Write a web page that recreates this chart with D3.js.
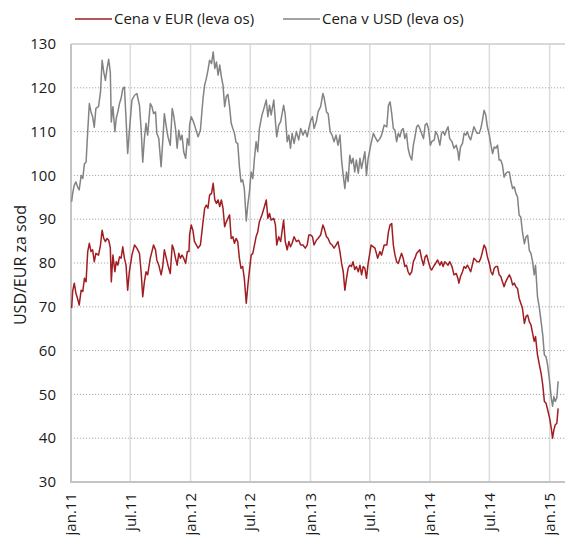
<!DOCTYPE html>
<html>
<head>
<meta charset="utf-8">
<script src="https://cdn.jsdelivr.net/npm/d3@7"></script>
<style>
  body { margin: 0; background: #fff; }
  svg { display: block; font-family: "Open Sans", sans-serif; }
</style>
</head>
<body>
<div id="chart"></div>
<script>
// Cena nafte Brent, USD in EUR za sod (odčitano s slike)
const dates2011 = [
  "2011-01-03","2011-01-06","2011-01-11","2011-01-16","2011-01-21","2011-01-26",
  "2011-02-01","2011-02-06","2011-02-11","2011-02-16","2011-02-21","2011-02-26",
  "2011-03-03","2011-03-08","2011-03-13","2011-03-18","2011-03-26",
  "2011-04-01","2011-04-06","2011-04-11","2011-04-16","2011-04-21","2011-04-26",
  "2011-05-01","2011-05-04","2011-05-09","2011-05-15","2011-05-19","2011-05-24","2011-05-29",
  "2011-06-03","2011-06-08","2011-06-13","2011-06-18","2011-06-23","2011-06-28",
  "2011-07-06","2011-07-14","2011-07-21","2011-07-29",
  "2011-08-03","2011-08-08","2011-08-13","2011-08-18","2011-08-23","2011-08-31",
  "2011-09-05","2011-09-10","2011-09-16","2011-09-20","2011-09-26",
  "2011-10-03","2011-10-08","2011-10-13","2011-10-18","2011-10-24","2011-10-31",
  "2011-11-06","2011-11-11","2011-11-16","2011-11-21","2011-11-26",
  "2011-12-01","2011-12-06","2011-12-11","2011-12-17","2011-12-22","2011-12-27","2011-12-29"
];
const usd2011 = [
  94.0, 95.9, 97.8, 98.5, 97.4, 96.7,
  100.0, 99.3, 102.7, 103.0, 110.0, 116.4,
  114.5, 113.4, 111.0, 115.3, 115.7,
  119.0, 126.3, 123.6, 121.7, 124.4, 126.5,
  123.6, 112.2, 115.7, 110.0, 113.0, 114.5, 116.4,
  117.6, 119.8, 120.2, 113.0, 105.0, 110.0,
  117.2, 118.3, 118.7, 116.0,
  110.7, 103.0, 108.4, 111.9, 109.2, 116.4,
  115.7, 114.1, 114.5, 109.6, 108.4,
  102.0, 107.7, 114.1, 111.5, 108.8, 106.9,
  115.3, 113.4, 110.7, 106.2, 110.3,
  108.1, 109.2, 105.4, 103.9, 108.4, 106.9, 111.5
];
const eur2011 = [
  69.7, 73.5, 75.4, 73.1, 71.9, 70.4,
  73.8, 73.5, 76.5, 75.7, 82.6, 84.5,
  82.6, 83.0, 80.3, 82.2, 81.8,
  84.1, 87.5, 85.6, 84.9, 85.6, 85.2,
  83.5, 75.7, 81.8, 78.0, 80.3, 79.5, 81.4,
  81.1, 83.7, 81.1, 79.5, 73.8, 78.0,
  81.8, 84.1, 83.4, 82.2,
  78.0, 72.3, 75.7, 78.0, 77.3, 81.1,
  82.6, 84.1, 83.0, 80.7, 79.5,
  77.3, 79.2, 83.0, 81.4, 79.5, 77.6,
  84.1, 83.0, 81.1, 79.5, 82.2,
  81.1, 81.8, 81.1, 79.9, 82.6, 82.6, 86.4
];

const dates2012 = [
  "2012-01-03","2012-01-08","2012-01-13","2012-01-19","2012-01-24","2012-01-31",
  "2012-02-08","2012-02-13","2012-02-18","2012-02-23","2012-02-28",
  "2012-03-05","2012-03-10","2012-03-15","2012-03-20","2012-03-25","2012-03-30",
  "2012-04-04","2012-04-09","2012-04-14","2012-04-19","2012-04-24","2012-04-29",
  "2012-05-04","2012-05-09","2012-05-14","2012-05-19","2012-05-24","2012-05-29",
  "2012-06-03","2012-06-08","2012-06-13","2012-06-19","2012-06-24","2012-06-29",
  "2012-07-04","2012-07-09","2012-07-14","2012-07-19","2012-07-24","2012-07-29",
  "2012-08-06","2012-08-12","2012-08-19","2012-08-24","2012-08-29",
  "2012-09-03","2012-09-11","2012-09-16","2012-09-20","2012-09-26",
  "2012-10-02","2012-10-11","2012-10-16","2012-10-22","2012-10-27",
  "2012-11-01","2012-11-06","2012-11-12","2012-11-19","2012-11-26",
  "2012-12-02","2012-12-09","2012-12-16","2012-12-22","2012-12-27"
];
const usd2012 = [
  113.4, 112.6, 111.5, 110.0, 108.8, 110.3,
  117.6, 120.6, 122.1, 124.0, 126.3,
  125.5, 128.2, 124.4, 125.9, 122.9, 125.2,
  122.5, 120.6, 115.7, 118.0, 118.5, 115.7,
  111.9, 110.7, 109.6, 107.5, 107.3, 102.0,
  98.5, 99.0, 97.0, 89.6, 93.5, 96.5,
  100.8, 99.3, 103.9, 107.7, 105.4, 110.7,
  113.8, 115.3, 117.2, 113.4, 116.0,
  113.8, 117.2, 112.3, 108.8, 111.5,
  112.3, 116.0, 113.8, 107.7, 109.2,
  106.2, 109.6, 107.3, 110.0, 108.1,
  110.7, 109.2, 110.3, 108.8, 110.7
];
const eur2012 = [
  88.7, 87.5, 84.9, 84.1, 83.4, 84.1,
  89.4, 92.5, 93.2, 92.5, 95.5,
  95.9, 98.2, 94.4, 93.6, 94.4, 92.9,
  94.4, 92.5, 88.3, 89.4, 90.2, 91.0,
  85.6, 86.0, 84.5, 85.6, 84.9, 81.1,
  78.8, 79.2, 76.5, 70.8, 75.0, 78.5,
  81.8, 82.2, 84.1, 86.0, 87.1, 89.4,
  91.0, 92.5, 94.4, 90.2, 91.3,
  89.8, 90.2, 88.7, 84.1, 86.0,
  84.9, 89.8, 84.9, 83.0, 84.9,
  83.7, 84.5, 86.0, 84.9, 85.2,
  84.1, 84.1, 83.4, 84.1, 86.4
];

const dates2013 = [
  "2013-01-02","2013-01-07","2013-01-12","2013-01-19","2013-01-24",
  "2013-02-01","2013-02-08","2013-02-12","2013-02-19","2013-02-24",
  "2013-03-02","2013-03-08","2013-03-14","2013-03-20","2013-03-26",
  "2013-04-01","2013-04-06","2013-04-11","2013-04-16","2013-04-21","2013-04-26",
  "2013-05-01","2013-05-06","2013-05-11","2013-05-16","2013-05-21","2013-05-27",
  "2013-06-01","2013-06-06","2013-06-11","2013-06-16","2013-06-21","2013-06-26",
  "2013-07-05","2013-07-12","2013-07-17","2013-07-25",
  "2013-08-01","2013-08-06","2013-08-14","2013-08-22","2013-08-27",
  "2013-09-01","2013-09-06","2013-09-11","2013-09-16","2013-09-21","2013-09-26",
  "2013-10-01","2013-10-06","2013-10-11","2013-10-16","2013-10-21","2013-10-26","2013-10-31",
  "2013-11-06","2013-11-11","2013-11-16","2013-11-21","2013-11-26",
  "2013-12-01","2013-12-06","2013-12-12","2013-12-17","2013-12-22","2013-12-27"
];
const usd2013 = [
  112.6, 113.4, 110.7, 112.3, 114.5,
  115.7, 118.7, 117.6, 114.5, 114.1,
  110.0, 109.2, 107.7, 109.2, 106.9,
  109.2, 103.5, 100.0, 97.0, 100.8, 98.6,
  104.6, 102.7, 103.9, 100.8, 103.5, 100.5,
  103.9, 101.6, 103.5, 105.4, 100.0, 103.9,
  107.3, 109.6, 108.8, 107.7,
  108.4, 109.2, 111.5, 111.1, 116.0,
  116.8, 114.1, 110.7, 110.3, 107.7, 109.6,
  108.8, 110.3, 110.7, 108.4, 109.6, 106.2, 104.6,
  103.5, 106.9, 108.8, 111.1, 111.5,
  110.7, 109.6, 108.4, 111.5, 111.9, 110.7
];
const eur2013 = [
  86.4, 86.0, 84.1, 85.2, 85.6,
  86.4, 88.7, 87.9, 86.0, 85.6,
  84.5, 84.1, 83.4, 84.1, 84.9,
  82.6, 79.9, 78.0, 73.8, 76.5, 78.8,
  79.5, 79.2, 80.3, 78.5, 79.2, 78.0,
  79.5, 77.3, 79.2, 78.8, 76.5, 79.9,
  84.1, 83.7, 83.4, 81.1,
  82.6, 81.8, 84.1, 84.1, 87.1,
  88.7, 89.0, 84.1, 81.8, 80.3, 79.9,
  81.1, 82.2, 81.1, 79.2, 79.5, 78.0, 77.3,
  78.0, 80.3, 81.1, 82.2, 82.6,
  83.0, 81.1, 79.5, 81.4, 81.8, 80.3
];

const dates2014 = [
  "2014-01-02","2014-01-06","2014-01-14","2014-01-18","2014-01-24","2014-01-31",
  "2014-02-05","2014-02-10","2014-02-15","2014-02-20","2014-02-25",
  "2014-03-02","2014-03-09","2014-03-15","2014-03-22","2014-03-27","2014-03-30",
  "2014-04-04","2014-04-10","2014-04-15","2014-04-20","2014-04-25","2014-04-30",
  "2014-05-05","2014-05-10","2014-05-15","2014-05-20","2014-05-25","2014-05-31",
  "2014-06-05","2014-06-10","2014-06-15","2014-06-20","2014-06-25",
  "2014-07-01","2014-07-06","2014-07-11","2014-07-16","2014-07-21","2014-07-26","2014-07-31",
  "2014-08-05","2014-08-10","2014-08-15","2014-08-20","2014-08-25","2014-08-31",
  "2014-09-05","2014-09-10","2014-09-15","2014-09-20","2014-09-25","2014-09-30",
  "2014-10-05","2014-10-10","2014-10-16","2014-10-21","2014-10-26","2014-10-31",
  "2014-11-05","2014-11-10","2014-11-15","2014-11-19","2014-11-25",
  "2014-12-01","2014-12-06","2014-12-11","2014-12-16","2014-12-21","2014-12-26"
];
const usd2014 = [
  106.9, 107.7, 108.1, 110.0, 109.2, 106.9,
  109.6, 110.0, 109.2, 110.3, 111.1,
  108.4, 107.7, 106.2, 106.9, 105.4, 103.5,
  106.5, 107.3, 109.6, 109.2, 110.0, 108.8,
  108.1, 109.6, 111.1, 110.3, 109.6, 109.6,
  110.7, 112.6, 114.9, 113.8, 111.1,
  109.2, 106.9, 105.0, 106.5, 106.2, 106.9, 103.5,
  103.5, 102.4, 99.6, 100.4, 100.8, 100.8,
  98.6, 97.0, 97.4, 95.9, 95.1, 90.9,
  90.5, 87.1, 84.4, 86.0, 86.3, 82.9,
  82.2, 80.3, 77.3, 79.5, 72.3,
  69.6, 66.6, 63.6, 59.0, 58.6, 56.7
];
const eur2014 = [
  78.8, 78.4, 79.5, 79.9, 80.7, 79.5,
  80.3, 79.2, 80.3, 79.9, 79.5,
  80.3, 79.2, 77.3, 77.6, 76.5, 75.4,
  76.9, 78.0, 79.2, 78.8, 79.5, 78.8,
  78.0, 79.5, 81.1, 80.7, 80.3, 80.3,
  81.1, 82.6, 84.1, 83.4, 81.4,
  79.9, 78.0, 77.3, 78.8, 79.2, 79.2, 77.3,
  76.9, 75.7, 74.6, 75.7, 76.5, 77.3,
  76.5, 75.0, 75.4, 74.6, 74.2, 71.9,
  70.8, 69.7, 66.2, 67.8, 68.1, 66.6,
  65.9, 64.0, 62.1, 63.2, 59.0,
  56.7, 54.8, 52.2, 48.4, 48.0, 46.5
];

const dates2015 = ["2015-01-01","2015-01-06","2015-01-10","2015-01-14","2015-01-18","2015-01-23","2015-01-27"];
const usd2015 = [52.9, 49.2, 47.3, 49.5, 48.4, 49.2, 53.0];
const eur2015 = [44.6, 42.3, 40.0, 41.9, 43.0, 43.4, 46.8];

const yTicks = [30, 40, 50, 60, 70, 80, 90, 100, 110, 120, 130];
const xTickDates = ["2011-01-01","2011-07-01","2012-01-01","2012-07-01","2013-01-01","2013-07-01","2014-01-01","2014-07-01","2015-01-01"];
const xTickLabels = ["jan.11","jul.11","jan.12","jul.12","jan.13","jul.13","jan.14","jul.14","jan.15"];
const seriesNames = ["Cena v EUR (leva os)", "Cena v USD (leva os)"];
const seriesColors = ["#a11d21", "#838383"];
const yTitle = "USD/EUR za sod";

// Sestavljanje serij
const parse = d3.timeParse("%Y-%m-%d");
const allDates = [].concat(dates2011, dates2012, dates2013, dates2014, dates2015).map(parse);
const usd = [].concat(usd2011, usd2012, usd2013, usd2014, usd2015);
const eur = [].concat(eur2011, eur2012, eur2013, eur2014, eur2015);
if (allDates.length !== usd.length || allDates.length !== eur.length) {
  console.error("Dolžine nizov se ne ujemajo", allDates.length, usd.length, eur.length);
}
const eurData = allDates.map((d, i) => ({ date: d, value: eur[i] }));
const usdData = allDates.map((d, i) => ({ date: d, value: usd[i] }));

const width = 565;
const height = 535;
const plot = { left: 71, right: 566, top: 44, bottom: 482 };
const fontSize = "15px";

const svg = d3
  .select("#chart")
  .append("svg")
  .attr("width", width)
  .attr("height", height);

const x = d3
  .scaleTime()
  .domain([new Date(2011, 0, 1), new Date(2015, 1, 20)])
  .range([plot.left, plot.right]);
const y = d3.scaleLinear().domain([30, 130]).range([plot.bottom, plot.top]);

// Navpične mreže
svg
  .append("g")
  .selectAll("line")
  .data(xTickDates.slice(1))
  .enter()
  .append("line")
  .attr("x1", (d) => x(parse(d)))
  .attr("x2", (d) => x(parse(d)))
  .attr("y1", plot.top)
  .attr("y2", plot.bottom)
  .attr("stroke", "#dcdcdc")
  .attr("stroke-width", 1.5);

// Vodoravne pikčaste mreže
svg
  .append("g")
  .selectAll("line")
  .data(yTicks.slice(1, -1))
  .enter()
  .append("line")
  .attr("x1", plot.left)
  .attr("x2", plot.right)
  .attr("y1", (d) => y(d))
  .attr("y2", (d) => y(d))
  .attr("stroke", "#a8a8a8")
  .attr("stroke-width", 1)
  .attr("stroke-dasharray", "1.2,1.8");

// Okvir
svg
  .append("line")
  .attr("x1", plot.left)
  .attr("x2", plot.right)
  .attr("y1", plot.top)
  .attr("y2", plot.top)
  .attr("stroke", "#cccccc")
  .attr("stroke-width", 1.5);
svg
  .append("line")
  .attr("x1", plot.left)
  .attr("x2", plot.left)
  .attr("y1", plot.top)
  .attr("y2", plot.bottom + 1)
  .attr("stroke", "#c4c4c4")
  .attr("stroke-width", 2);
svg
  .append("line")
  .attr("x1", plot.left - 1)
  .attr("x2", plot.right)
  .attr("y1", plot.bottom)
  .attr("y2", plot.bottom)
  .attr("stroke", "#c4c4c4")
  .attr("stroke-width", 2);

// Oznake osi Y
svg
  .append("g")
  .selectAll("text")
  .data(yTicks)
  .enter()
  .append("text")
  .attr("x", 56)
  .attr("y", (d) => y(d))
  .attr("dy", "0.35em")
  .attr("text-anchor", "end")
  .attr("font-size", fontSize)
  .attr("fill", "#1a1a1a")
  .text((d) => d);

// Oznake osi X (navpično)
svg
  .append("g")
  .selectAll("text")
  .data(xTickDates)
  .enter()
  .append("text")
  .attr("transform", (d) => `translate(${x(parse(d))},493) rotate(-90)`)
  .attr("dy", "0.35em")
  .attr("text-anchor", "end")
  .attr("font-size", fontSize)
  .attr("fill", "#1a1a1a")
  .text((d, i) => xTickLabels[i]);

// Naslov osi Y
svg
  .append("text")
  .attr("transform", "translate(20,265) rotate(-90)")
  .attr("dy", "0.35em")
  .attr("text-anchor", "middle")
  .attr("font-size", "16px")
  .attr("fill", "#1a1a1a")
  .text(yTitle);

// Črte
const line = d3
  .line()
  .x((d) => x(d.date))
  .y((d) => y(d.value));

svg
  .append("path")
  .datum(usdData)
  .attr("fill", "none")
  .attr("stroke", seriesColors[1])
  .attr("stroke-width", 1.5)
  .attr("stroke-linejoin", "round")
  .attr("d", line);

svg
  .append("path")
  .datum(eurData)
  .attr("fill", "none")
  .attr("stroke", seriesColors[0])
  .attr("stroke-width", 1.5)
  .attr("stroke-linejoin", "round")
  .attr("d", line);

// Legenda
const legendX = [75, 283];
const legend = svg
  .append("g")
  .selectAll("g")
  .data(seriesNames)
  .enter()
  .append("g")
  .attr("transform", (d, i) => `translate(${legendX[i]},19)`);
legend
  .append("line")
  .attr("x1", 0)
  .attr("x2", 37)
  .attr("stroke", (d, i) => seriesColors[i])
  .attr("stroke-width", 1.5);
legend
  .append("text")
  .attr("x", 39)
  .attr("dy", "0.35em")
  .attr("font-size", fontSize)
  .attr("fill", "#1a1a1a")
  .text((d) => d);
</script>
</body>
</html>
